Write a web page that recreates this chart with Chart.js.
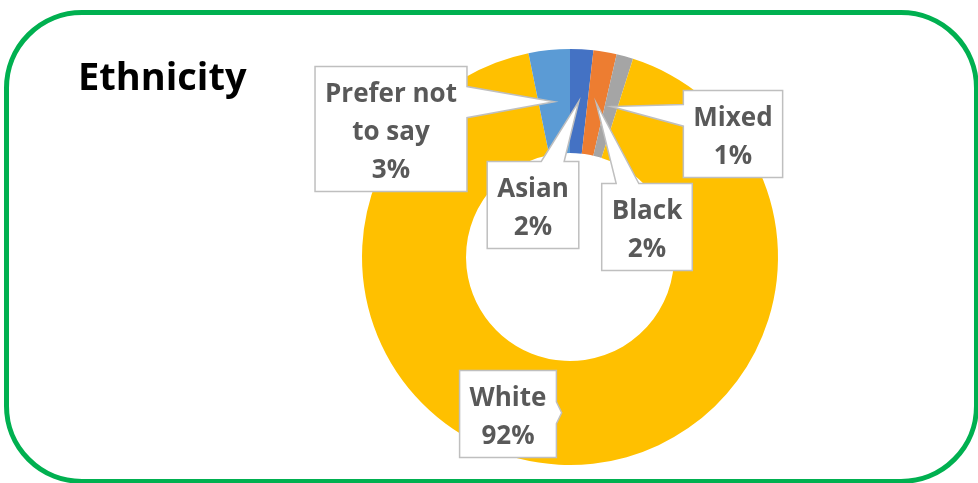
<!DOCTYPE html>
<html>
<head>
<meta charset="utf-8">
<title>Ethnicity</title>
<script src="https://cdn.jsdelivr.net/npm/chart.js@4.4.1/dist/chart.umd.min.js"></script>
<style>
    html, body { margin: 0; padding: 0; background: #fff; }
    #wrap { position: relative; width: 978px; height: 483px; overflow: hidden; }
    #frame {
        position: absolute; left: 4px; top: 10px; width: 975px; height: 474px;
        box-sizing: border-box; border: 5px solid #00b050; border-radius: 78px;
        pointer-events: none;
    }
</style>
</head>
<body>
<div id="wrap">
    <canvas id="ethnicity-chart"></canvas>
    <div id="frame"></div>
</div>
<script>
    // survey split, percent of respondents
    var chartTitle = "Ethnicity";
    var categories = ["Asian", "Black", "Mixed", "White", "Prefer not to say"];
    var values = [1.8, 1.8, 1.3, 91.9, 3.2];
    var colours = ["#4472c4", "#ed7d31", "#a5a5a5", "#ffc000", "#5b9bd5"];

    // where each callout box sits, relative to the doughnut centre
    var calloutOffsets = [[-37, -52], [77, -30], [163, -123], [-62, 157], [-179, -128]];

    function wrapText(ctx, text, maxWidth) {
        var words = text.split(" "), lines = [], line = "";
        words.forEach(function (w) {
            var test = line ? line + " " + w : w;
            if (line && ctx.measureText(test).width > maxWidth) {
                lines.push(line);
                line = w;
            } else {
                line = test;
            }
        });
        if (line) lines.push(line);
        return lines;
    }

    function clamp(v, lo, hi) { return Math.max(lo, Math.min(hi, v)); }

    // box outline with a wedge pointing at the slice
    function drawCallout(ctx, b, tip) {
        var outX = tip.x < b.l ? b.l - tip.x : (tip.x > b.r ? tip.x - b.r : 0);
        var outY = tip.y < b.t ? b.t - tip.y : (tip.y > b.b ? tip.y - b.b : 0);
        var side = null;
        if (outX || outY) {
            if (outY > outX) side = tip.y < b.t ? "top" : "bottom";
            else side = tip.x < b.l ? "left" : "right";
        }
        function base(s0, s1, t) {
            var len = s1 - s0, bw = len * 0.25, m = len * 0.16;
            var c = clamp(t, s0 + m + bw / 2, s1 - m - bw / 2);
            return [c - bw / 2, c + bw / 2];
        }
        var pts = [[b.l, b.t]];
        if (side === "top") { var a = base(b.l, b.r, tip.x); pts.push([a[0], b.t], [tip.x, tip.y], [a[1], b.t]); }
        pts.push([b.r, b.t]);
        if (side === "right") { var a = base(b.t, b.b, tip.y); pts.push([b.r, a[0]], [tip.x, tip.y], [b.r, a[1]]); }
        pts.push([b.r, b.b]);
        if (side === "bottom") { var a = base(b.l, b.r, tip.x); pts.push([a[1], b.b], [tip.x, tip.y], [a[0], b.b]); }
        pts.push([b.l, b.b]);
        if (side === "left") { var a = base(b.t, b.b, tip.y); pts.push([b.l, a[1]], [tip.x, tip.y], [b.l, a[0]]); }

        ctx.beginPath();
        pts.forEach(function (p, k) { k ? ctx.lineTo(p[0], p[1]) : ctx.moveTo(p[0], p[1]); });
        ctx.closePath();
        ctx.fillStyle = "#ffffff";
        ctx.fill();
        ctx.lineWidth = 1.5;
        ctx.strokeStyle = "#bfbfbf";
        ctx.lineJoin = "miter";
        ctx.stroke();
    }

    var calloutPlugin = {
        id: "callouts",
        afterDatasetsDraw: function (chart) {
            var ctx = chart.ctx;
            var meta = chart.getDatasetMeta(0);
            var data = chart.data.datasets[0].data;
            var total = data.reduce(function (a, b) { return a + b; }, 0);
            ctx.save();

            ctx.font = "bold 38px 'Open Sans'";
            ctx.fillStyle = "#000000";
            ctx.textAlign = "left";
            ctx.textBaseline = "alphabetic";
            ctx.fillText(chartTitle, 78, 90);

            ctx.font = "bold 26px 'Open Sans'";
            meta.data.forEach(function (arc, i) {
                var tip = arc.tooltipPosition(true);
                var lines = wrapText(ctx, chart.data.labels[i], 135);
                lines.push(Math.round(data[i] / total * 100) + "%");
                var w = Math.max.apply(null, lines.map(function (l) { return ctx.measureText(l).width; })) + 20;
                var h = lines.length * 38 + 11;
                var cx = arc.x + calloutOffsets[i][0], cy = arc.y + calloutOffsets[i][1];
                var box = { l: cx - w / 2, t: cy - h / 2, r: cx + w / 2, b: cy + h / 2 };
                drawCallout(ctx, box, tip);
                ctx.fillStyle = "#595959";
                ctx.textAlign = "center";
                lines.forEach(function (l, k) { ctx.fillText(l, cx, box.t + 35 + k * 38); });
            });
            ctx.restore();
        }
    };

    document.addEventListener("DOMContentLoaded", function () {
        var ctx = document.getElementById("ethnicity-chart").getContext("2d");
        var chart = new Chart(ctx, {
            type: "doughnut",
            data: {
                labels: categories,
                datasets: [{ data: values, backgroundColor: colours, borderWidth: 0 }]
            },
            options: {
                responsive: true,
                maintainAspectRatio: false,
                animation: false,
                cutout: "50%",
                layout: { padding: { left: 362, right: 200, top: 49, bottom: 18 } },
                plugins: {
                    legend: { display: false },
                    tooltip: { enabled: false },
                    title: { display: false }
                }
            },
            plugins: [calloutPlugin]
        });
    });
</script>
</body>
</html>
